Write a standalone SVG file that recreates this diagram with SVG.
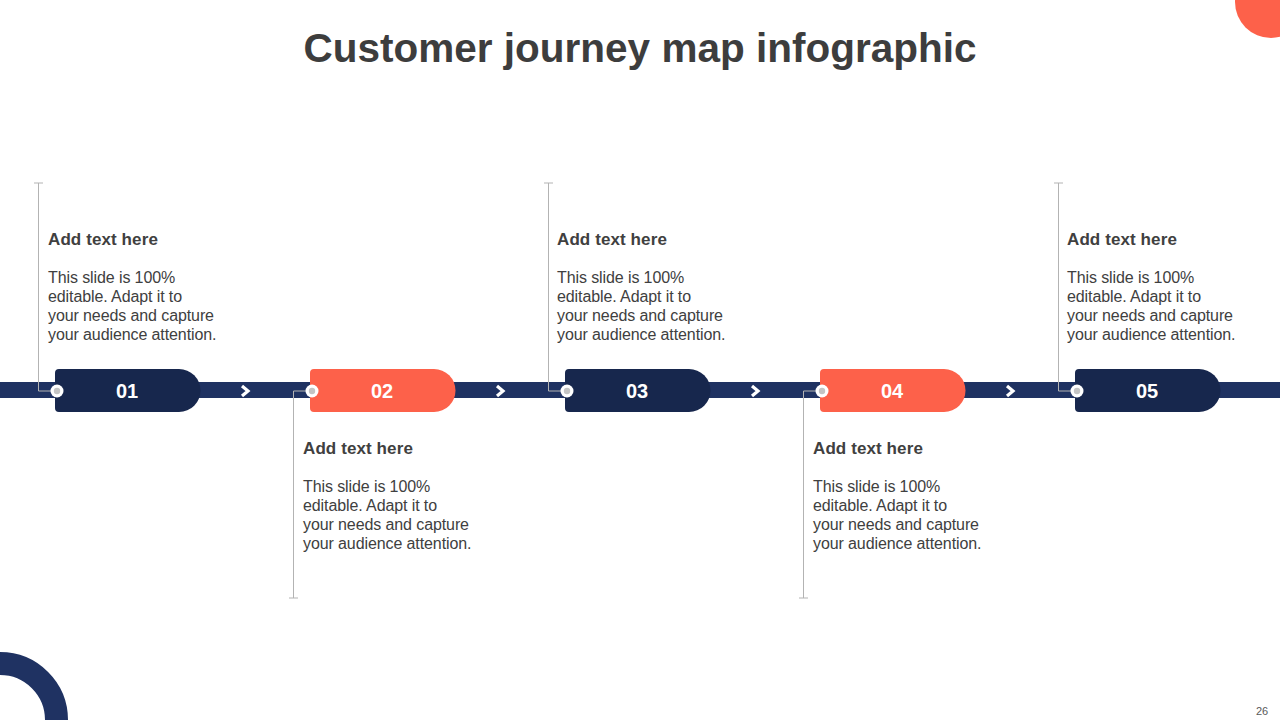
<svg xmlns="http://www.w3.org/2000/svg" width="1280" height="720" viewBox="0 0 1280 720">
<style>
.title{font-family:"Liberation Sans",Arial,sans-serif;font-weight:bold;font-size:40.5px;fill:#3d3d3d}
.h{font-family:"Liberation Sans",Arial,sans-serif;font-weight:bold;font-size:17px;fill:#404040;letter-spacing:0.1px}
.b{font-family:"Liberation Sans",Arial,sans-serif;font-size:16px;fill:#404040;letter-spacing:-0.1px}
.num{font-family:"Liberation Sans",Arial,sans-serif;font-weight:bold;font-size:20px;fill:#ffffff}
.dark{fill:#17274d}
.orange{fill:#fd614a}
.lead{stroke:#b3b3b3;stroke-width:1;fill:none}
.chev{stroke:#ffffff;stroke-width:3.2;fill:none;stroke-linejoin:miter}
</style>
<defs>
<path id="pill" d="M4,0 H124 A21.5,21.5 0 0 1 124,43 H4 A4,4 0 0 1 0,39 V4 A4,4 0 0 1 4,0 Z"/>
<g id="dot"><circle r="6.5" fill="#ffffff"/><circle r="3.2" fill="#c4c4c4"/></g>
</defs>
<rect width="1280" height="720" fill="#ffffff"/>
<text class="title" x="640" y="62" text-anchor="middle">Customer journey map infographic</text>
<circle cx="1271" cy="2" r="36" fill="#fd614a"/>
<circle cx="0" cy="720" r="56.5" fill="none" stroke="#1f3262" stroke-width="23"/>
<text x="1262" y="715" text-anchor="middle" font-family="Liberation Sans,Arial,sans-serif" font-size="11" fill="#595959">26</text>

<g id="connectors">
<rect x="0" y="382" width="1280" height="16" fill="#1f3262"/>
<path class="chev" d="M242,386 L248,391 L242,396"/>
<path class="chev" d="M497,386 L503,391 L497,396"/>
<path class="chev" d="M752,386 L758,391 L752,396"/>
<path class="chev" d="M1007,386 L1013,391 L1007,396"/>
<path class="lead" d="M52,391 H38.5 V183 M34,183 H43"/>
<path class="lead" d="M307,391 H293.5 V598 M289,598 H298"/>
<path class="lead" d="M562,391 H548.5 V183 M544,183 H553"/>
<path class="lead" d="M817,391 H803.5 V598 M799,598 H808"/>
<path class="lead" d="M1072,391 H1058.5 V183 M1054,183 H1063"/>
</g>

<g id="node1">
<use href="#pill" x="55" y="369" class="dark"/>
<use href="#dot" x="57" y="391"/>
<text class="num" x="127" y="398" text-anchor="middle">01</text>
<text class="h" x="48" y="245">Add text here</text>
<text class="b"><tspan x="48" y="283">This slide is 100%</tspan><tspan x="48" y="302">editable. Adapt it to</tspan><tspan x="48" y="321">your needs and capture</tspan><tspan x="48" y="340">your audience attention.</tspan></text>
</g>
<g id="node2">
<use href="#pill" x="310" y="369" class="orange"/>
<use href="#dot" x="312" y="391"/>
<text class="num" x="382" y="398" text-anchor="middle">02</text>
<text class="h" x="303" y="454">Add text here</text>
<text class="b"><tspan x="303" y="492">This slide is 100%</tspan><tspan x="303" y="511">editable. Adapt it to</tspan><tspan x="303" y="530">your needs and capture</tspan><tspan x="303" y="549">your audience attention.</tspan></text>
</g>
<g id="node3">
<use href="#pill" x="565" y="369" class="dark"/>
<use href="#dot" x="567" y="391"/>
<text class="num" x="637" y="398" text-anchor="middle">03</text>
<text class="h" x="557" y="245">Add text here</text>
<text class="b"><tspan x="557" y="283">This slide is 100%</tspan><tspan x="557" y="302">editable. Adapt it to</tspan><tspan x="557" y="321">your needs and capture</tspan><tspan x="557" y="340">your audience attention.</tspan></text>
</g>
<g id="node4">
<use href="#pill" x="820" y="369" class="orange"/>
<use href="#dot" x="822" y="391"/>
<text class="num" x="892" y="398" text-anchor="middle">04</text>
<text class="h" x="813" y="454">Add text here</text>
<text class="b"><tspan x="813" y="492">This slide is 100%</tspan><tspan x="813" y="511">editable. Adapt it to</tspan><tspan x="813" y="530">your needs and capture</tspan><tspan x="813" y="549">your audience attention.</tspan></text>
</g>
<g id="node5">
<use href="#pill" x="1075" y="369" class="dark"/>
<use href="#dot" x="1077" y="391"/>
<text class="num" x="1147" y="398" text-anchor="middle">05</text>
<text class="h" x="1067" y="245">Add text here</text>
<text class="b"><tspan x="1067" y="283">This slide is 100%</tspan><tspan x="1067" y="302">editable. Adapt it to</tspan><tspan x="1067" y="321">your needs and capture</tspan><tspan x="1067" y="340">your audience attention.</tspan></text>
</g>
</svg>
